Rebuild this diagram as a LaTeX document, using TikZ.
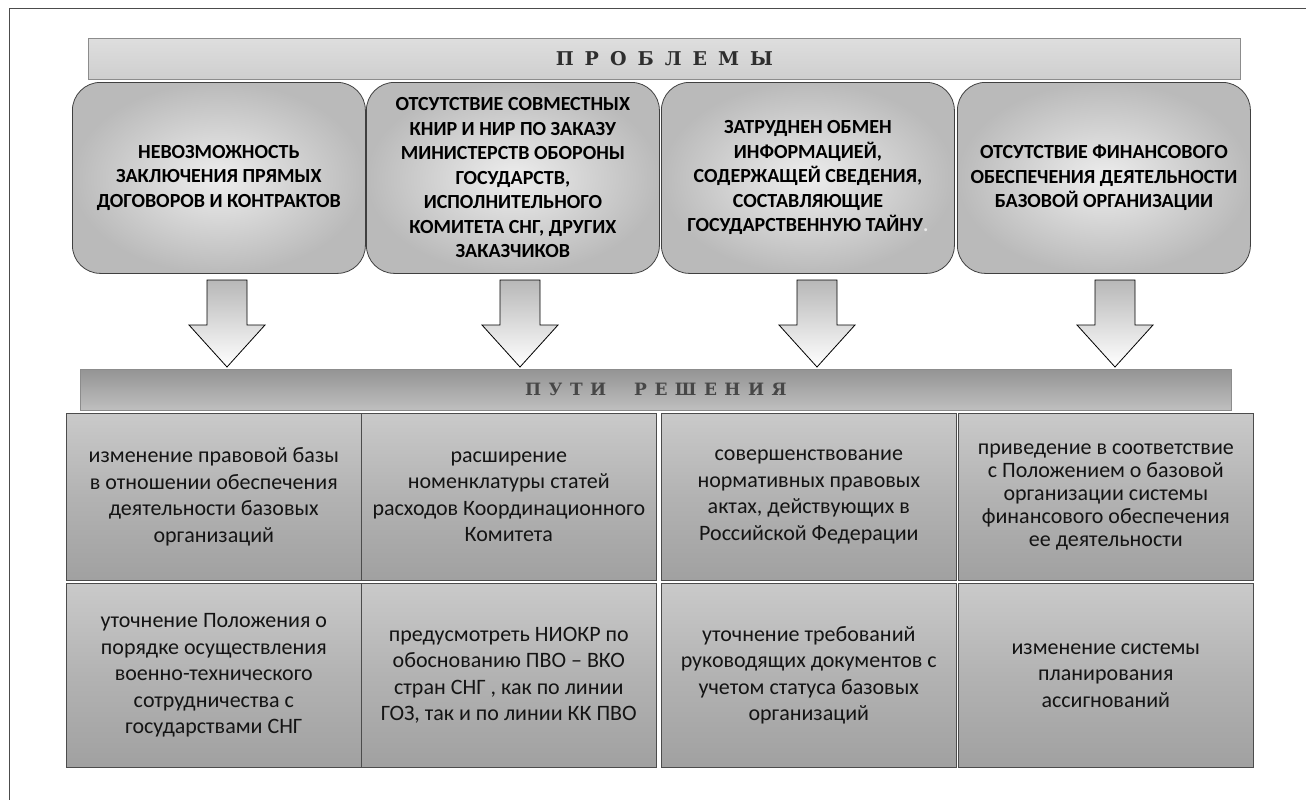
\documentclass[tikz,border=0pt]{standalone}
\usepackage{fontspec}
\setmainfont{Carlito}
\newfontfamily\headfont{DejaVu Serif}
\begin{document}
\begin{tikzpicture}[x=1pt,y=-1pt,
  banner/.style={draw=black!45,line width=0.8pt,anchor=north west,inner sep=0pt,minimum height=41pt},
  prob/.style={draw=black!75,line width=0.8pt,rounded corners=28pt,inner color=black!7,outer color=black!27,
    anchor=north west,inner sep=0pt,minimum width=293pt,minimum height=191pt,align=center,
    font=\fontsize{20}{24.5}\selectfont\bfseries},
  way/.style={draw=black!70,line width=0.6pt,top color=black!21,bottom color=black!37,middle color=black!30,
    anchor=north west,inner sep=0pt,minimum width=295pt,align=center,text=black!92,
    font=\fontsize{22}{26.5}\selectfont},
  blockarrow/.style={draw=black,line width=0.8pt,top color=black!28,bottom color=white}]
  \useasboundingbox (0,0) rectangle (1306,800);
  \draw[black!70,line width=1pt] (9,800) -- (9,9) -- (1306,9);

  \node[banner,minimum width=1152pt,top color=black!13,bottom color=black!19] (probl) at (88,38)
    {\headfont\bfseries\fontsize{19}{19}\selectfont\color{black!82}\spaceskip=11pt П Р О Б Л Е М Ы};

  \node[prob] (p1) at (72,82) {НЕВОЗМОЖНОСТЬ\\ЗАКЛЮЧЕНИЯ ПРЯМЫХ\\ДОГОВОРОВ И КОНТРАКТОВ};
  \node[prob] (p2) at (366,82) {ОТСУТСТВИЕ СОВМЕСТНЫХ\\КНИР И НИР ПО ЗАКАЗУ\\МИНИСТЕРСТВ ОБОРОНЫ\\ГОСУДАРСТВ,\\ИСПОЛНИТЕЛЬНОГО\\КОМИТЕТА СНГ, ДРУГИХ\\ЗАКАЗЧИКОВ};
  \node[prob] (p3) at (661,82) {ЗАТРУДНЕН ОБМЕН\\ИНФОРМАЦИЕЙ,\\СОДЕРЖАЩЕЙ СВЕДЕНИЯ,\\СОСТАВЛЯЮЩИЕ\\ГОСУДАРСТВЕННУЮ ТАЙНУ{\color{black!8}.}};
  \node[prob] (p4) at (957,82) {ОТСУТСТВИЕ ФИНАНСОВОГО\\ОБЕСПЕЧЕНИЯ ДЕЯТЕЛЬНОСТИ\\БАЗОВОЙ ОРГАНИЗАЦИИ};

  \foreach \x [count=\i] in {227,520,817,1115} {
    \coordinate (a\i) at (\x,280);
    \draw[blockarrow] (a\i) ++(-20,0) -- ++(40,0) -- ++(0,45) -- ++(18,0) -- ++(-38,42) -- ++(-38,-42) -- ++(18,0) -- cycle;
  }

  \node[banner,minimum width=1151pt,top color=black!42,bottom color=black!25] (sol) at (80,369)
    {\headfont\bfseries\fontsize{17}{17}\selectfont\color{black!72}\spaceskip=7.5pt П У Т И\hspace{28pt}Р Е Ш Е Н И Я};

  \node[way,minimum height=167pt] (r1) at (66,413) {изменение правовой базы\\в отношении обеспечения\\деятельности базовых\\организаций};
  \node[way,minimum height=167pt] (r2) at (361,413) {расширение\\номенклатуры статей\\расходов Координационного\\Комитета};
  \node[way,minimum height=167pt] (r3) at (661,413) {совершенствование\\нормативных правовых\\актах, действующих в\\Российской Федерации};
  \node[way,minimum height=167pt,font=\fontsize{22}{23}\selectfont] (r4) at (958,413) {приведение в соответствие\\с Положением о базовой\\организации системы\\финансового обеспечения\\ее деятельности};

  \node[way,minimum height=184pt] (s1) at (66,583) {уточнение Положения о\\порядке осуществления\\военно-технического\\сотрудничества с\\государствами СНГ};
  \node[way,minimum height=184pt] (s2) at (361,583) {предусмотреть НИОКР по\\обоснованию ПВО – ВКО\\стран СНГ , как по линии\\ГОЗ, так и по линии КК ПВО};
  \node[way,minimum height=184pt] (s3) at (661,583) {уточнение требований\\руководящих документов с\\учетом статуса базовых\\организаций};
  \node[way,minimum height=184pt] (s4) at (958,583) {изменение системы\\планирования\\ассигнований};
\end{tikzpicture}
\end{document}
